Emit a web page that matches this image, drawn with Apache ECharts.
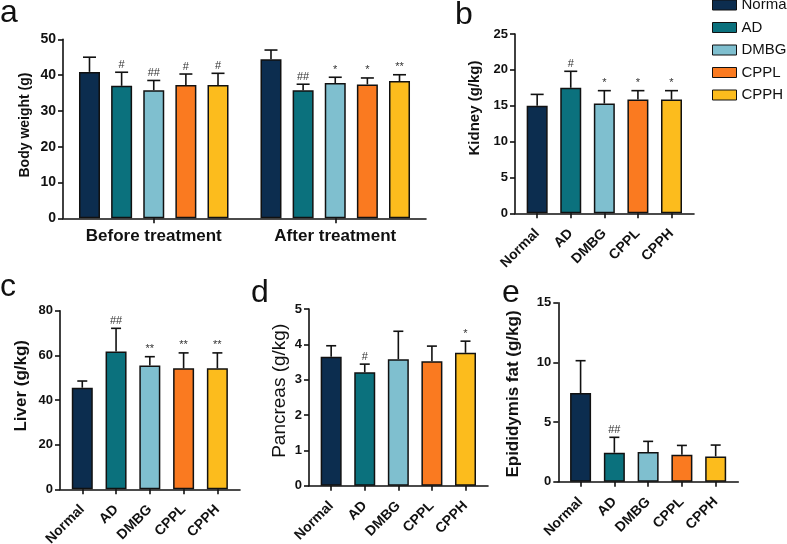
<!DOCTYPE html>
<html><head><meta charset="utf-8">
<script src="https://cdn.jsdelivr.net/npm/echarts@6/dist/echarts.min.js"></script>
<style>html,body{margin:0;padding:0;background:#fff}#c{width:787px;height:544px}</style>
</head><body><div id="c"></div>
<script>
// ---------- data ----------
const groups = ['Normal', 'AD', 'DMBG', 'CPPL', 'CPPH'];
const colors = ['#0c2d4f', '#0b717d', '#7fbfcf', '#fa7a20', '#fcbc1d'];
const phases = ['Before treatment', 'After treatment'];
// panel a: body weight (g), per group: [before, after]
const bwMean = [[40.9, 44.4], [37.0, 35.8], [35.8, 37.8], [37.2, 37.4], [37.2, 38.35]];
const bwSD   = [[4.1, 2.6], [3.8, 1.65], [2.7, 1.6], [3.1, 1.8], [3.3, 1.75]];
const bwSig  = [['', ''], ['#', '##'], ['##', '*'], ['#', '*'], ['#', '**']];
// panel b: kidney (g/kg)
const kidneyMean = [15.0, 17.5, 15.3, 15.85, 15.85];
const kidneySD   = [1.58, 2.3, 1.8, 1.25, 1.25];
const kidneySig  = ['', '#', '*', '*', '*'];
// panel c: liver (g/kg)
const liverMean = [45.5, 61.7, 55.5, 54.2, 54.2];
const liverSD   = [3.0, 10.4, 3.9, 6.9, 6.9];
const liverSig  = ['', '##', '**', '**', '**'];
// panel d: pancreas (g/kg)
const pancreasMean = [3.65, 3.21, 3.58, 3.52, 3.76];
const pancreasSD   = [0.31, 0.23, 0.79, 0.43, 0.33];
const pancreasSig  = ['', '#', '', '', '*'];
// panel e: epididymis fat (g/kg)
const fatMean = [7.43, 2.43, 2.49, 2.26, 2.12];
const fatSD   = [2.71, 1.29, 0.89, 0.78, 0.95];
const fatSig  = ['', '##', '', '', ''];
// axis ticks
const groupTicks = [0, 1, 2, 3, 4];

// ---------- styles ----------
const FF = '"Liberation Sans", Arial, sans-serif';
const INK = '#111';
const axisLineStyle = { lineStyle: { color: INK, width: 1.6 } };

const chart = echarts.init(document.getElementById('c'));

function yAxisDef(gi, max, interval) {
  return {
    type: 'value', gridIndex: gi, min: 0, max: max, interval: interval,
    axisLine: { show: true, onZero: false, ...axisLineStyle },
    axisTick: { show: true, length: 5, lineStyle: { color: INK, width: 1.6 } },
    axisLabel: { color: INK, fontFamily: FF, fontWeight: 'bold', fontSize: gi === 0 ? 14 : 13, margin: 7 },
    splitLine: { show: false }
  };
}
function xGroupAxis(gi) {
  return {
    type: 'value', gridIndex: gi, min: -0.66, max: 4.67,
    axisLine: { show: true, onZero: false, ...axisLineStyle },
    axisTick: { show: true, length: 5, customValues: groupTicks, lineStyle: { color: INK, width: 1.6 } },
    axisLabel: {
      customValues: groupTicks, rotate: 45, margin: 18,
      color: INK, fontFamily: FF, fontWeight: 'bold', fontSize: 14,
      formatter: v => groups[Math.round(v)]
    },
    splitLine: { show: false }
  };
}
function errSeries(xi, yi, means, sds, sigs, capW, shift) {
  return {
    type: 'custom', xAxisIndex: xi, yAxisIndex: yi, z: 5, silent: true,
    data: means.map((m, i) => [i, m + sds[i]]),
    renderItem: (params, api) => {
      const i = params.dataIndex;
      const p0 = api.coord([i, means[i]]);
      const p1 = api.coord([i, means[i] + sds[i]]);
      const x = p0[0] + shift;
      const ls = { stroke: INK, lineWidth: 1.6 };
      const ch = [
        { type: 'line', shape: { x1: x, y1: p0[1], x2: x, y2: p1[1] }, style: ls },
        { type: 'line', shape: { x1: x - capW / 2, y1: p1[1], x2: x + capW / 2, y2: p1[1] }, style: ls }
      ];
      const s = sigs[i];
      if (s) ch.push({ type: 'text', style: { text: s, x: x, y: p1[1] - 2, align: 'center', verticalAlign: 'bottom', fontSize: 11, fontFamily: FF, fill: '#333' } });
      return { type: 'group', children: ch };
    }
  };
}
function groupBars(xi, yi, means) {
  return {
    type: 'bar', name: 'panel' + xi, xAxisIndex: xi, yAxisIndex: yi, barWidth: 21,
    data: means.map((m, i) => ({ value: [i, m], itemStyle: { color: colors[i] } })),
    itemStyle: { borderColor: INK, borderWidth: 1.5 }
  };
}

const grids = [
  { left: 63, top: 39.3, width: 363, height: 179 },
  { left: 515, top: 34, width: 179, height: 179.3 },
  { left: 60, top: 310.7, width: 180, height: 178.6 },
  { left: 309, top: 309, width: 179, height: 176.7 },
  { left: 558.3, top: 302.7, width: 180, height: 179 }
].map(g => ({ ...g, containLabel: false, outerBoundsMode: 'none' }));

const xAxes = [
  {
    type: 'category', gridIndex: 0, data: phases,
    axisLine: { show: true, ...axisLineStyle },
    axisTick: { show: true, alignWithLabel: true, length: 5, lineStyle: { color: INK, width: 1.6 } },
    axisLabel: { color: INK, fontFamily: FF, fontWeight: 'bold', fontSize: 17, margin: 10 }
  },
  xGroupAxis(1), xGroupAxis(2), xGroupAxis(3), xGroupAxis(4)
];
const yAxes = [yAxisDef(0, 50, 10), yAxisDef(1, 25, 5), yAxisDef(2, 80, 20), yAxisDef(3, 5, 1), yAxisDef(4, 15, 5)];

const series = [];
const barStep = 21 * 1.53;
groups.forEach((g, s) => {
  series.push({
    type: 'bar', name: g, xAxisIndex: 0, yAxisIndex: 0, barWidth: 21, barGap: '53%',
    data: bwMean[s], itemStyle: { color: colors[s], borderColor: INK, borderWidth: 1.5 }
  });
});
groups.forEach((g, s) => {
  series.push(errSeries(0, 0, bwMean[s], bwSD[s], bwSig[s], 13, (s - 2) * barStep));
});
series.push(groupBars(1, 1, kidneyMean), errSeries(1, 1, kidneyMean, kidneySD, kidneySig, 13, 0));
series.push(groupBars(2, 2, liverMean), errSeries(2, 2, liverMean, liverSD, liverSig, 10, 0));
series.push(groupBars(3, 3, pancreasMean), errSeries(3, 3, pancreasMean, pancreasSD, pancreasSig, 10, 0));
series.push(groupBars(4, 4, fatMean), errSeries(4, 4, fatMean, fatSD, fatSig, 10, 0));

function ytitle(text, x, y, weight, size) {
  return { type: 'text', x: x, y: y, rotation: Math.PI / 2,
    style: { text: text, font: weight + ' ' + size + 'px ' + FF, align: 'center', verticalAlign: 'middle', fill: INK } };
}
function letter(t, x, y) {
  return { type: 'text', x: x, y: y, style: { text: t, font: '32px ' + FF, align: 'left', verticalAlign: 'middle', fill: INK } };
}

chart.setOption({
  backgroundColor: '#fff',
  animation: false,
  grid: grids,
  xAxis: xAxes,
  yAxis: yAxes,
  legend: {
    data: groups, orient: 'vertical', left: 712, top: -3, padding: 0, icon: 'rect',
    itemWidth: 24, itemHeight: 10, itemGap: 6.5, selectedMode: false,
    itemStyle: { borderColor: INK, borderWidth: 1 },
    textStyle: { fontFamily: FF, fontSize: 15, color: INK, lineHeight: 16 }
  },
  series: series,
  graphic: [
    letter('a', 0, 13.5), letter('b', 455, 15), letter('c', 0, 287), letter('d', 251, 293.5), letter('e', 502, 293.5),
    ytitle('Body weight (g)', 25, 125, 'bold', 14),
    ytitle('Kidney (g/kg)', 474.5, 108, 'bold', 15),
    ytitle('Liver (g/kg)', 21.7, 385.8, 'bold', 17),
    ytitle('Pancreas (g/kg)', 280, 390.8, 'normal', 19),
    ytitle('Epididymis fat (g/kg)', 513, 394, 'bold', 17)
  ]
});
</script></body></html>
